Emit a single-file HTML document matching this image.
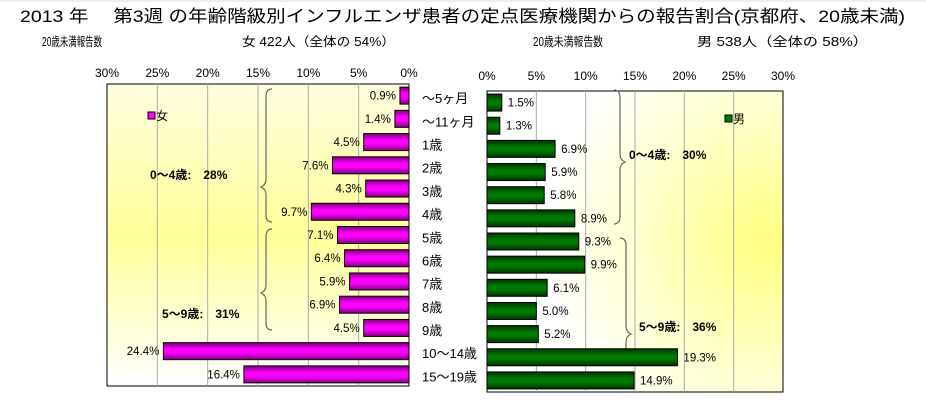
<!DOCTYPE html>
<html><head><meta charset="utf-8">
<style>
html,body{margin:0;padding:0;background:#fff;}
svg{display:block;font-family:"Liberation Sans","Noto Sans CJK JP",sans-serif;}
</style></head>
<body>
<svg id="chart" width="926" height="400" viewBox="0 0 926 400">
<defs>
  <linearGradient id="bgL" x1="0" y1="0" x2="0" y2="1">
    <stop offset="0" stop-color="#fffde0"/><stop offset="0.5" stop-color="#ffff99"/><stop offset="1" stop-color="#ffffff"/>
  </linearGradient>
  <radialGradient id="bgR" cx="0.95" cy="0.5" r="0.75">
    <stop offset="0" stop-color="#ffff80"/><stop offset="0.6" stop-color="#ffffd0"/><stop offset="1" stop-color="#ffffff"/>
  </radialGradient>
  <linearGradient id="gF" x1="0" y1="0" x2="0" y2="1">
    <stop offset="0" stop-color="#800080"/><stop offset="0.4" stop-color="#ff00ff"/><stop offset="0.6" stop-color="#ff00ff"/><stop offset="1" stop-color="#800080"/>
  </linearGradient>
  <linearGradient id="gM" x1="0" y1="0" x2="0" y2="1">
    <stop offset="0" stop-color="#003300"/><stop offset="0.4" stop-color="#007a00"/><stop offset="0.6" stop-color="#007a00"/><stop offset="1" stop-color="#003300"/>
  </linearGradient>
</defs>
<line x1="0" y1="1" x2="926" y2="1" stroke="#ddd"/>
<text x="20" y="22" font-size="17" textLength="885" lengthAdjust="spacingAndGlyphs">2013 年　 第3週 の年齢階級別インフルエンザ患者の定点医療機関からの報告割合(京都府、20歳未満)</text>
<text x="42" y="46" font-size="12.5" textLength="60" lengthAdjust="spacingAndGlyphs">20歳未満報告数</text>
<text x="242" y="46" font-size="12.5" textLength="153" lengthAdjust="spacingAndGlyphs">女  422人（全体の  54%）</text>
<text x="533" y="46" font-size="12.5" textLength="70" lengthAdjust="spacingAndGlyphs">20歳未満報告数</text>
<text x="697" y="46" font-size="12.5" textLength="171" lengthAdjust="spacingAndGlyphs">男  538人（全体の  58%）</text>

<rect x="107" y="84" width="302" height="302" fill="url(#bgL)" stroke="#000"/>
<rect x="487" y="91" width="296" height="301" fill="url(#bgR)" stroke="#000"/>
<g id="grid"></g>
<g id="brackets" fill="none" stroke="#666" stroke-width="1.2">
  <path d="M272,89 q-6,0 -6,8 v82 q0,6 -5,8 q5,2 5,8 v20 q0,7 6,7"/>
  <path d="M272,229 q-6,0 -6,8 v48 q0,6 -5,8 q5,2 5,8 v22 q0,7 6,7"/>
  <path d="M614,90 q6,0 6,8 v56 q0,6 5,8 q-5,2 -5,8 v46 q0,8 -6,8"/>
  <path d="M620,238 q6,0 6,8 v80 q0,6 5,8 q-5,2 -5,8 v5 q0,7 -6,7"/>
</g>
<text x="150" y="179" font-size="12" font-weight="bold">0～4歳:　28%</text>
<text x="162" y="318" font-size="12" font-weight="bold">5～9歳:　31%</text>
<text x="629" y="159" font-size="12" font-weight="bold">0～4歳:　30%</text>
<text x="639" y="331" font-size="12" font-weight="bold">5～9歳:　36%</text>
<rect x="148" y="112" width="7" height="7" fill="#ff00ff" stroke="#000"/>
<text x="156" y="120" font-size="12">女</text>
<rect x="725" y="115" width="7" height="7" fill="#007a00" stroke="#000"/>
<text x="733" y="123" font-size="12">男</text>
<g id="bars"></g>
</svg>
<script>
const categories = ["～5ヶ月","～11ヶ月","1歳","2歳","3歳","4歳","5歳","6歳","7歳","8歳","9歳","10～14歳","15～19歳"];
const femaleValues = [0.9,1.4,4.5,7.6,4.3,9.7,7.1,6.4,5.9,6.9,4.5,24.4,16.4];
const maleValues = [1.5,1.3,6.9,5.9,5.8,8.9,9.3,9.9,6.1,5.0,5.2,19.3,14.9];
const tickValues = [0,5,10,15,20,25,30];
const tickLabels = ["0%","5%","10%","15%","20%","25%","30%"];

const NS = "http://www.w3.org/2000/svg";
const L0 = 409, LS = 302/30, LT = 84, LH = 302;
const R0 = 487, RS = 296/30, RT = 91, RH = 301;
const xF = v => L0 - v*LS;
const xM = v => R0 + v*RS;
const yF = i => LT + (i+0.5)*LH/categories.length;
const yM = i => RT + (i+0.5)*RH/categories.length;
function mk(tag, attrs, parent, text){
  const e = document.createElementNS(NS, tag);
  for (const k in attrs) e.setAttribute(k, attrs[k]);
  if (text !== undefined) e.textContent = text;
  parent.appendChild(e); return e;
}
const grid = document.getElementById('grid');
const bars = document.getElementById('bars');
const svg = document.getElementById('chart');
tickValues.forEach((t, i) => {
  if (t > 0 && t < 30) {
    const g1 = mk('line', {x1:xF(t), x2:xF(t), y1:LT, y2:LT+LH, stroke:'#aaa'}, grid);
    
    
    const g2 = mk('line', {x1:xM(t), x2:xM(t), y1:RT, y2:RT+RH, stroke:'#aaa'}, grid);
    
    
  }
  const a = mk('text', {x:xF(t), y:77, 'font-size':12, 'text-anchor':'middle'}, svg, tickLabels[i]);
  
  
  const b = mk('text', {x:xM(t), y:80, 'font-size':12, 'text-anchor':'middle'}, svg, tickLabels[i]);
  
  
});
const bh = 17;
categories.forEach((c, i) => {
  const fv = femaleValues[i], mv = maleValues[i];
  const fb = mk('rect', {x:xF(fv), y:yF(i)-bh/2, width:L0-xF(fv), height:bh, fill:'url(#gF)', stroke:'#000'}, bars);
  
  
  const fl = mk('text', {x:xF(fv)-4, y:yF(i)+4, 'font-size':11.5, 'text-anchor':'end'}, bars, fv.toFixed(1)+'%');
  
  
  const mb = mk('rect', {x:R0, y:yM(i)-bh/2, width:xM(mv)-R0, height:bh, fill:'url(#gM)', stroke:'#000'}, bars);
  
  
  const ml = mk('text', {x:xM(mv)+6, y:yM(i)+4, 'font-size':11.5}, bars, mv.toFixed(1)+'%');
  
  
  const cl = mk('text', {x:422, y:(yF(i)+yM(i))/2+4, 'font-size':13}, bars, c);
  
  
});
</script>
</body></html>
